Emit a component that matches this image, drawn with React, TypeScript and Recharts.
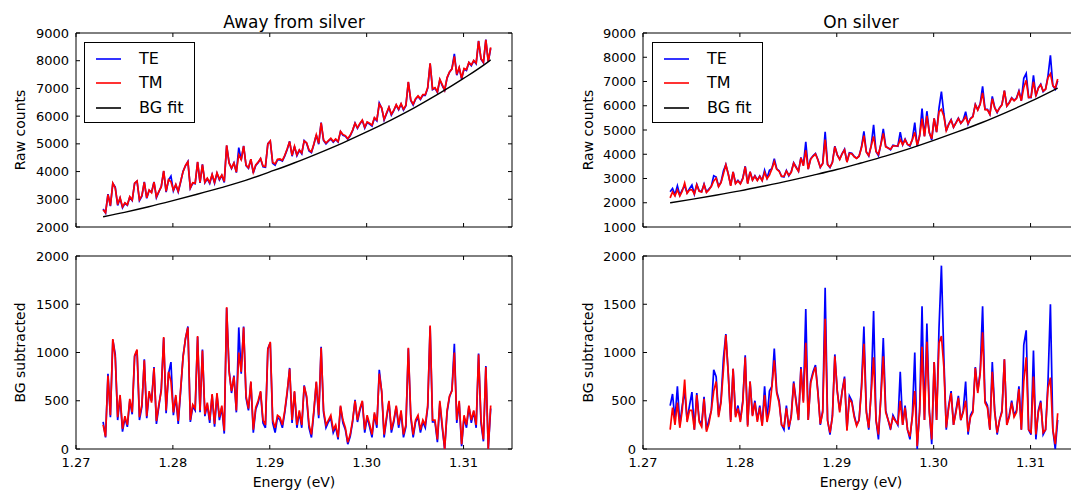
import React from 'react';
import { LineChart, Line, XAxis, YAxis, ReferenceArea, Legend } from 'recharts';

const FONT = "'DejaVu Sans', sans-serif";

// Spectrometer grid (eV)
const energyStart = 1.2728;
const energyStep = 0.00025;

// Background-subtracted counts, "Away from silver"
const teAwaySub = [
  280, 120, 780, 330, 1130, 980, 300, 540, 180, 320,
  230, 500, 360, 960, 1020, 300, 440, 930, 320, 580,
  500, 850, 260, 440, 620, 1150, 370, 780, 900, 350,
  540, 260, 600, 960, 1140, 1270, 280, 440, 400, 1160,
  380, 1030, 340, 460, 270, 560, 230, 560, 300, 430,
  160, 1460, 820, 580, 760, 380, 1260, 780, 1270, 530,
  400, 690, 170, 410, 480, 590, 270, 220, 1040, 1100,
  270, 170, 330, 300, 220, 380, 580, 840, 270, 590,
  220, 380, 220, 660, 530, 220, 120, 380, 690, 320,
  1060, 380, 220, 280, 320, 170, 230, 100, 440, 270,
  200, 50, 130, 280, 510, 280, 400, 490, 170, 330,
  230, 120, 360, 220, 820, 590, 120, 310, 490, 170,
  280, 440, 220, 380, 120, 230, 1040, 330, 120, 280,
  330, 170, 280, 220, 430, 1270, 280, 280, 70, 480,
  220, 0, 380, 540, 610, 1090, 270, 480, 30, 330,
  220, 440, 270, 390, 220, 990, 270, 80, 860, 0,
  420,
];
const tmAwaySub = [
  250, 130, 760, 350, 1140, 950, 330, 560, 210, 340,
  250, 520, 380, 970, 1030, 330, 460, 920, 340, 600,
  480, 840, 290, 460, 600, 1160, 400, 800, 700, 380,
  560, 290, 620, 950, 1150, 1260, 300, 460, 420, 1170,
  400, 1020, 360, 480, 300, 570, 260, 580, 330, 450,
  190, 1470, 800, 600, 750, 400, 1000, 800, 1260, 550,
  420, 700, 200, 430, 500, 600, 300, 250, 1030, 1110,
  300, 220, 350, 330, 250, 400, 600, 830, 300, 600,
  250, 400, 250, 650, 550, 250, 150, 400, 700, 350,
  1050, 400, 250, 300, 350, 200, 250, 120, 450, 300,
  220, 70, 150, 300, 500, 300, 420, 500, 200, 350,
  260, 150, 380, 250, 780, 600, 150, 330, 500, 200,
  300, 450, 250, 400, 150, 250, 1050, 350, 150, 300,
  350, 200, 300, 250, 450, 1280, 300, 300, 100, 500,
  250, 0, 400, 550, 600, 1000, 300, 500, 50, 350,
  250, 450, 300, 400, 250, 980, 300, 100, 850, 0,
  450,
];

// Background-subtracted counts, "On silver"
const teOnSub = [
  450, 570, 300, 650, 250, 450, 600, 300, 450, 590,
  200, 580, 300, 250, 540, 200, 300, 400, 820, 750,
  350, 500, 940, 1190, 780, 300, 830, 350, 450, 300,
  500, 970, 250, 700, 350, 500, 300, 450, 250, 650,
  300, 600, 650, 1040, 600, 500, 250, 200, 450, 200,
  350, 700, 500, 300, 850, 500, 1450, 300, 700, 800,
  870, 600, 250, 400, 1670, 300, 150, 350, 980, 600,
  400, 600, 750, 200, 550, 500, 350, 250, 300, 650,
  1270, 400, 200, 600, 1430, 300, 100, 550, 1150, 400,
  300, 200, 350, 300, 250, 800, 250, 450, 200, 100,
  350, 1000, 0, 400, 1480, 300, 1300, 400, 50, 900,
  300, 1250, 1900, 950, 200, 450, 600, 250, 400, 550,
  300, 400, 700, 150, 350, 400, 850, 600, 800, 1480,
  500, 450, 200, 900, 400, 150, 300, 400, 930, 250,
  350, 500, 350, 400, 650, 200, 1080, 1230, 200, 150,
  1020, 100, 400, 500, 150, 200, 700, 1500, 200, 0,
  300,
];
const tmOnSub = [
  200, 430, 250, 480, 220, 400, 720, 280, 400, 400,
  200, 560, 280, 230, 520, 180, 260, 400, 600, 700,
  330, 480, 820, 1180, 780, 280, 830, 330, 420, 280,
  480, 950, 230, 700, 340, 480, 280, 430, 240, 560,
  280, 400, 640, 920, 580, 480, 250, 230, 420, 230,
  330, 680, 480, 300, 830, 480, 1100, 300, 680, 780,
  850, 580, 260, 380, 1350, 290, 170, 330, 960, 600,
  380, 590, 730, 190, 520, 480, 330, 240, 300, 620,
  1090, 380, 220, 580, 950, 300, 150, 530, 960, 380,
  300, 220, 330, 290, 260, 500, 250, 430, 200, 130,
  330, 600, 30, 380, 1060, 300, 1110, 380, 100, 900,
  300, 1100, 1170, 850, 220, 430, 580, 250, 380, 530,
  300, 380, 500, 180, 330, 380, 840, 580, 780, 1210,
  480, 430, 200, 800, 380, 170, 300, 380, 930, 250,
  330, 480, 330, 380, 620, 200, 700, 950, 200, 170,
  750, 150, 380, 480, 170, 200, 630, 740, 200, 50,
  370,
];

// Background fit
const bgEnergies = [1.2728, 1.275, 1.2775, 1.28, 1.2825, 1.285, 1.2875, 1.29, 1.2925, 1.295, 1.2975, 1.3, 1.3025, 1.305, 1.3075, 1.31, 1.3125, 1.3128];
const bgAway = [2370, 2530, 2730, 2950, 3180, 3420, 3680, 3990, 4310, 4660, 5030, 5430, 5860, 6320, 6820, 7360, 7950, 8030];
const bgOn = [2000, 2140, 2310, 2490, 2690, 2900, 3130, 3370, 3640, 3920, 4230, 4570, 4930, 5310, 5730, 6180, 6670, 6730];

const xTicks = [1.27, 1.28, 1.29, 1.3, 1.31];
const rawTicksAway = [2000, 3000, 4000, 5000, 6000, 7000, 8000, 9000];
const rawTicksOn = [1000, 2000, 3000, 4000, 5000, 6000, 7000, 8000, 9000];
const subTicks = [0, 500, 1000, 1500, 2000];
const legendItems = [
  { name: 'TE', color: '#0000ff' },
  { name: 'TM', color: '#ff0000' },
  { name: 'BG fit', color: '#000000' },
];

const energies = teAwaySub.map((_, i) => +(energyStart + i * energyStep).toFixed(5));

function bgAt(e: number, table: number[]) {
  for (let k = 0; k < bgEnergies.length - 1; k++) {
    if (e <= bgEnergies[k + 1] + 1e-9) {
      const f = (e - bgEnergies[k]) / (bgEnergies[k + 1] - bgEnergies[k]);
      return table[k] + f * (table[k + 1] - table[k]);
    }
  }
  return table[table.length - 1];
}

function subData(te: number[], tm: number[]) {
  return energies.map((e, i) => ({ e, te: te[i], tm: tm[i] }));
}
function rawData(te: number[], tm: number[], bg: number[]) {
  return energies.map((e, i) => {
    const b = bgAt(e, bg);
    return { e, te: te[i] + b, tm: tm[i] + b };
  });
}
function bgData(bg: number[]) {
  return bgEnergies.map((e, i) => ({ e, bg: bg[i] }));
}

const PLOT_W = 436;
const TOP_H = 194;
const BOT_H = 193;
const TICK = 4;

function XTick(props: any) {
  const { x, y, payload, plotH, showLabel } = props;
  return (
    <g>
      <line x1={x} x2={x} y1={y} y2={y - TICK} stroke="#000" strokeWidth={1} />
      <line x1={x} x2={x} y1={y - plotH} y2={y - plotH + TICK} stroke="#000" strokeWidth={1} />
      {showLabel && (
        <text x={x} y={y + 18} textAnchor="middle" fontSize={13} fontFamily={FONT} fill="#000">
          {Number(payload.value).toFixed(2)}
        </text>
      )}
    </g>
  );
}

function YTick(props: any) {
  const { x, y, payload } = props;
  return (
    <g>
      <line x1={x} x2={x + TICK} y1={y} y2={y} stroke="#000" strokeWidth={1} />
      <line x1={x + PLOT_W - TICK} x2={x + PLOT_W} y1={y} y2={y} stroke="#000" strokeWidth={1} />
      <text x={x - 7} y={y + 4.5} textAnchor="end" fontSize={13} fontFamily={FONT} fill="#000">
        {payload.value}
      </text>
    </g>
  );
}

function LegendBox() {
  const rows = [15.5, 40, 65];
  return (
    <div
      style={{
        position: 'relative',
        width: 111,
        height: 81,
        boxSizing: 'border-box',
        border: '1px solid #000',
        background: '#fff',
        fontFamily: FONT,
        fontSize: 16,
      }}
    >
      {legendItems.map((it, k) => (
        <div key={it.name} style={{ position: 'absolute', left: 0, top: rows[k] - 10, height: 20, width: 109 }}>
          <svg width={40} height={20} style={{ position: 'absolute', left: 0, top: 0 }}>
            <line x1={11} x2={36} y1={10} y2={10} stroke={it.color} strokeWidth={1.6} />
          </svg>
          <span style={{ position: 'absolute', left: 54, top: 0, lineHeight: '20px', whiteSpace: 'nowrap', color: '#000' }}>
            {it.name}
          </span>
        </div>
      ))}
    </div>
  );
}

type PanelProps = {
  left: number;
  top: number;
  width: number;
  height: number;
  margin: { top: number; right: number; bottom: number; left: number };
  xAxisH: number;
  plotH: number;
  showXLabels: boolean;
  yDomain: [number, number];
  yTicks: number[];
  data: any[];
  bg?: any[];
  legendPos?: { left: number; top: number };
};

function Panel(p: PanelProps) {
  return (
    <div style={{ position: 'absolute', left: p.left, top: p.top, width: p.width, height: p.height }}>
      <LineChart width={p.width} height={p.height} data={p.data} margin={p.margin}>
        <XAxis
          dataKey="e"
          type="number"
          domain={[1.27, 1.315]}
          ticks={xTicks}
          interval={0}
          allowDataOverflow
          axisLine={false}
          tickLine={false}
          tickSize={0}
          tickMargin={0}
          height={p.xAxisH}
          tick={(tp: any) => <XTick {...tp} plotH={p.plotH} showLabel={p.showXLabels} />}
        />
        <YAxis
          type="number"
          domain={p.yDomain}
          ticks={p.yTicks}
          interval={0}
          allowDataOverflow
          axisLine={false}
          tickLine={false}
          tickSize={0}
          tickMargin={0}
          width={60}
          tick={(tp: any) => <YTick {...tp} />}
        />
        <Line dataKey="te" name="TE" type="linear" stroke="#0000ff" strokeWidth={1.7} strokeLinejoin="miter" dot={false} activeDot={false} isAnimationActive={false} />
        <Line dataKey="tm" name="TM" type="linear" stroke="#ff0000" strokeWidth={1.7} strokeLinejoin="miter" dot={false} activeDot={false} isAnimationActive={false} />
        {p.bg && (
          <Line data={p.bg} dataKey="bg" name="BG fit" type="monotone" stroke="#000000" strokeWidth={1.4} dot={false} activeDot={false} isAnimationActive={false} />
        )}
        <ReferenceArea x1={1.27} x2={1.315} y1={p.yDomain[0]} y2={p.yDomain[1]} fill="none" fillOpacity={0} stroke="#000" strokeWidth={1} ifOverflow="visible" />
        {p.legendPos && (
          <Legend
            layout="vertical"
            align="center"
            verticalAlign="middle"
            wrapperStyle={{ left: p.legendPos.left, top: p.legendPos.top, width: 111, height: 81 }}
            content={() => <LegendBox />}
          />
        )}
      </LineChart>
    </div>
  );
}

export default function App() {
  const awayRaw = rawData(teAwaySub, tmAwaySub, bgAway);
  const onRaw = rawData(teOnSub, tmOnSub, bgOn);
  const awaySub = subData(teAwaySub, tmAwaySub);
  const onSub = subData(teOnSub, tmOnSub);

  const topMargin = { top: 33, right: 28, bottom: 0, left: 16 };
  const botMargin = { top: 33, right: 28, bottom: 4, left: 16 };
  const topMarginR = { top: 33, right: 41, bottom: 0, left: 23 };
  const botMarginR = { top: 33, right: 41, bottom: 4, left: 23 };

  return (
    <div style={{ position: 'absolute', left: 0, top: 0, width: 1071, height: 493, overflow: 'hidden', background: '#fff' }}>
      <Panel left={0} top={0} width={540} height={260} margin={topMargin} xAxisH={33} plotH={TOP_H} showXLabels={false}
        yDomain={[2000, 9000]} yTicks={rawTicksAway} data={awayRaw} bg={bgData(bgAway)} legendPos={{ left: 84, top: 42 }} />
      <Panel left={0} top={223} width={540} height={270} margin={botMargin} xAxisH={40} plotH={BOT_H} showXLabels
        yDomain={[0, 2000]} yTicks={subTicks} data={awaySub} />
      <Panel left={560} top={0} width={560} height={260} margin={topMarginR} xAxisH={33} plotH={TOP_H} showXLabels={false}
        yDomain={[1000, 9000]} yTicks={rawTicksOn} data={onRaw} bg={bgData(bgOn)} legendPos={{ left: 92, top: 42 }} />
      <Panel left={560} top={223} width={560} height={270} margin={botMarginR} xAxisH={40} plotH={BOT_H} showXLabels
        yDomain={[0, 2000]} yTicks={subTicks} data={onSub} />

      <svg width={1071} height={493} style={{ position: 'absolute', left: 0, top: 0, pointerEvents: 'none' }}>
        <g fontFamily={FONT} fill="#000">
          <text x={294} y={28} textAnchor="middle" fontSize={17}>Away from silver</text>
          <text x={861} y={28} textAnchor="middle" fontSize={17}>On silver</text>
          <text x={294} y={487} textAnchor="middle" fontSize={14}>Energy (eV)</text>
          <text x={861} y={487} textAnchor="middle" fontSize={14}>Energy (eV)</text>
          <text transform="translate(24.5,130) rotate(-90)" textAnchor="middle" fontSize={14}>Raw counts</text>
          <text transform="translate(24.5,352.5) rotate(-90)" textAnchor="middle" fontSize={14}>BG subtracted</text>
          <text transform="translate(592.5,130) rotate(-90)" textAnchor="middle" fontSize={14}>Raw counts</text>
          <text transform="translate(592.5,352.5) rotate(-90)" textAnchor="middle" fontSize={14}>BG subtracted</text>
        </g>
      </svg>
    </div>
  );
}
